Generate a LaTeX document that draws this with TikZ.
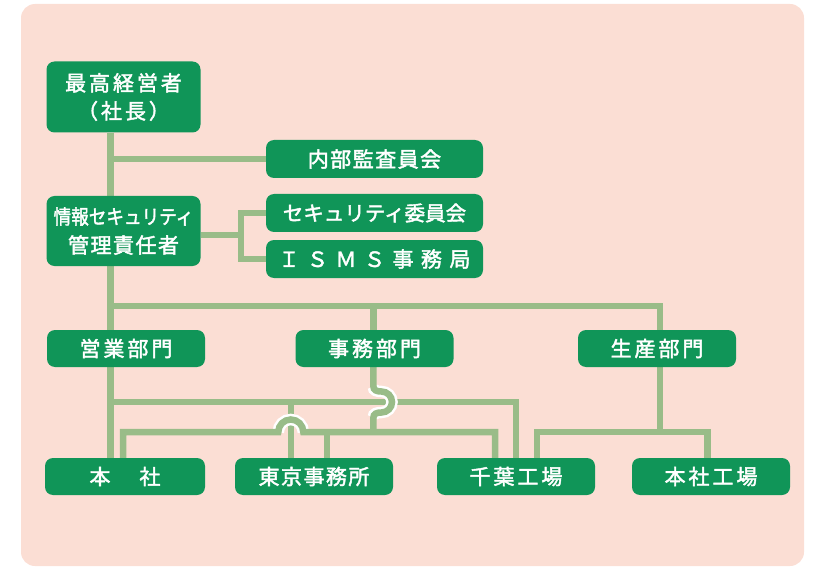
\documentclass[tikz,border=0pt]{standalone}
\usepackage{fontspec}
\usepackage{graphicx}
\newfontfamily\jp[FakeBold=2]{Noto Sans CJK JP}
\newfontfamily\jpm[FakeBold=2,LetterSpace=7]{Noto Sans CJK JP}
\newfontfamily\jpw[FakeBold=2,LetterSpace=14]{Noto Sans CJK JP}
\usetikzlibrary{backgrounds,calc}
\definecolor{bgpink}{RGB}{251,222,212}
\definecolor{boxgreen}{RGB}{16,149,88}
\definecolor{linegreen}{RGB}{153,188,136}
\begin{document}
\begin{tikzpicture}[x=1pt,y=-1pt,
  box/.style={rectangle,rounded corners=8pt,fill=boxgreen,text=white,inner sep=0pt,align=center,
    font=\jp\fontsize{21}{28}\selectfont},
  widebox/.style={box,minimum width=217pt,minimum height=38pt},
  unitbox/.style={box,minimum width=158pt,minimum height=37pt},
  link/.style={draw=linegreen,line width=6.5pt,line join=miter},
  halo/.style={draw=white,line width=11.5pt},
]
\useasboundingbox (0,0) rectangle (820,567);

% nodes
\node[box,minimum width=154pt,minimum height=71pt,font=\jpw\fontsize{21}{28}\selectfont] (ceo) at (123.5,97) {最高経営者\\（社長）};
\node[widebox,font=\jpm\fontsize{21}{28}\selectfont] (audit) at (374.5,159) {内部監査員会};
\node[box,minimum width=154pt,minimum height=70pt,font=\jp\fontsize{21}{29}\selectfont] (isec) at (123.5,231)
  {\scalebox{0.88}[1]{\fontsize{20}{29}\selectfont 情報セキュリティ}\\{\jpm 管理責任者}};
\node[widebox,font=\jp\fontsize{20.5}{28}\selectfont] (seccom) at (374.5,213) {セキュリティ委員会};
\node[widebox] (isms) at (374.5,259) {Ｉ\hspace{7.5pt}Ｓ\hspace{7.5pt}Ｍ\hspace{7.5pt}Ｓ\hspace{7.5pt}事\hspace{7.5pt}務\hspace{7.5pt}局};
\node[unitbox,font=\jpw\fontsize{21}{28}\selectfont] (sales) at (126,348.5) {営業部門};
\node[unitbox,font=\jpw\fontsize{21}{28}\selectfont] (admin) at (374.5,348.5) {事務部門};
\node[unitbox,font=\jpw\fontsize{21}{28}\selectfont] (prod) at (657,348.5) {生産部門};
\node[unitbox,minimum width=160pt] (hq) at (125,476.5) {本\hspace{29pt}社};
\node[unitbox,font=\jpm\fontsize{21}{28}\selectfont] (tokyo) at (314,476.5) {東京事務所};
\node[unitbox,font=\jpw\fontsize{21}{28}\selectfont] (chiba) at (516,476.5) {千葉工場};
\node[unitbox,font=\jpw\fontsize{21}{28}\selectfont] (hqplant) at (711,476.5) {本社工場};

% guide coordinates
\coordinate (xT) at (110.7,0);
\coordinate (xS) at (241,0);
\coordinate (xA) at (373.3,0);
\coordinate (xP) at (660,0);
\coordinate (xH) at (123,0);
\coordinate (xT1) at (290.8,0);
\coordinate (xT2) at (327,0);
\coordinate (xC1) at (516,0);
\coordinate (xC2) at (495,0);
\coordinate (xC3) at (537,0);
\coordinate (xQ) at (707.5,0);
\coordinate (yB) at (0,306);
\coordinate (yS) at (0,402);
\coordinate (yA) at (0,432);

\begin{scope}[on background layer]
  \path[fill=bgpink,rounded corners=14pt] (21,4) rectangle (804,566);
  % management
  \draw[link] (xT |- ceo.south) -- (xT |- hq.north);
  \draw[link] (xT |- audit.west) -- (audit.west);
  \draw[link] ($(isec.east)+(0,4)$) -- ($(xS |- isec.east)+(0,4)$);
  \draw[link] (seccom.west) -| (xS |- isms.west) -- (isms.west);
  \draw[link] (xT |- yB) -| (xP |- prod.north);
  \draw[link] (xA |- yB) -- (xA |- admin.north);
  % sales department
  \draw[link] (xT |- yS) -| (xC1 |- chiba.north);
  \draw[link] (xT1 |- yS) -- (xT1 |- tokyo.north);
  % halos of the hops
  \draw[halo] (373.3,387) .. controls (373.3,390.5) and (377,391.5) .. (381.5,391.5)
     arc[start angle=-90,end angle=90,radius=10.5]
     .. controls (377,412.5) and (373.3,413.5) .. (373.3,417);
  \draw[halo] (278.3,432) arc[start angle=180,end angle=360,radius=12.5];
  % administration department
  \draw[link] (xA |- admin.south) -- (373.3,386) .. controls (373.3,390.5) and (377,391.5) .. (381.5,391.5)
     arc[start angle=-90,end angle=90,radius=10.5]
     .. controls (377,412.5) and (373.3,413.5) .. (373.3,418) -- (xA |- yA);
  \draw[link] (xH |- hq.north) -- (xH |- yA) -- (278.3,432)
     arc[start angle=180,end angle=360,radius=12.5] -- (xC2 |- yA) -- (xC2 |- chiba.north);
  \draw[link] (xT2 |- yA) -- (xT2 |- tokyo.north);
  % production department
  \draw[link] (xP |- prod.south) -- (xP |- yA);
  \draw[link] (xC3 |- chiba.north) -- (xC3 |- yA) -- (xQ |- yA) -- (xQ |- hqplant.north);
\end{scope}
\end{tikzpicture}
\end{document}
